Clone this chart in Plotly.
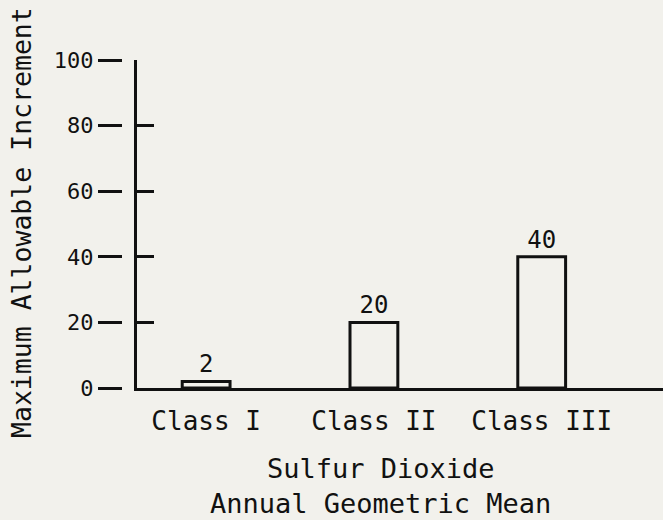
import plotly.graph_objects as go

categories = ["Class I", "Class II", "Class III"]
values = [2, 20, 40]
y_ticks = [0, 20, 40, 60, 80, 100]
y_tick_labels = ["0", "20", "40", "60", "80", "100"]

BG = "#f2f1ec"
INK = "#111111"
FONT = "DejaVu Sans Mono"

x_pos = list(range(len(categories)))
PAPER_W = 563
AXIS_POS = 37 / PAPER_W      # paper position of the vertical axis line

fig = go.Figure()

# Outlined bars with value labels above them
fig.add_trace(go.Bar(
    x=x_pos, y=values, width=0.285,
    marker=dict(color=BG, line=dict(color=INK, width=3)),
    text=[str(v) for v in values], textposition="outside",
    textfont=dict(family=FONT, size=24, color=INK),
    cliponaxis=False, showlegend=False, hoverinfo="skip",
))

# Companion axis on the same scale, carrying the labels and their dashes
fig.add_trace(go.Scatter(
    x=x_pos, y=values, yaxis="y2", mode="none",
    showlegend=False, hoverinfo="skip",
))

fig.update_layout(
    width=663, height=520,
    margin=dict(l=100, r=0, t=60, b=132),
    paper_bgcolor=BG, plot_bgcolor="rgba(0,0,0,0)",
    font=dict(family=FONT, color=INK),
    hovermode=False, dragmode=False,
    xaxis=dict(
        domain=[AXIS_POS, 1],
        range=[-0.412, 2.723],
        tickvals=x_pos, ticktext=categories,
        tickfont=dict(family=FONT, size=26, color=INK),
        ticks="", showgrid=False, zeroline=False,
        showline=True, linecolor=INK, linewidth=3,
        ticklabelstandoff=8, fixedrange=True,
    ),
    # the axis line itself, with short ticks pointing into the plot
    yaxis=dict(
        anchor="x", side="left",
        range=[0, 100], tickvals=y_ticks,
        showticklabels=False,
        ticks="inside", ticklen=17, tickwidth=3, tickcolor=INK,
        showgrid=False, zeroline=False,
        showline=True, linecolor=INK, linewidth=3,
        fixedrange=True,
    ),
    # labels with their dashes, set off to the left of the axis line
    yaxis2=dict(
        overlaying="y", matches="y", anchor="free", side="left",
        position=22 / PAPER_W,
        range=[0, 100], tickvals=y_ticks, ticktext=y_tick_labels,
        tickfont=dict(family=FONT, size=22, color=INK),
        ticks="outside", ticklen=24, tickwidth=3, tickcolor=INK,
        showgrid=False, zeroline=False, showline=False,
        ticklabelstandoff=0, fixedrange=True,
    ),
    annotations=[
        dict(
            text="Maximum Allowable Increment",
            xref="paper", yref="paper",
            x=(21 - 100) / PAPER_W, y=(388 - 223) / 328,
            xanchor="center", yanchor="middle", textangle=-90,
            showarrow=False, font=dict(family=FONT, size=26.5, color=INK),
        ),
        dict(
            text="Sulfur Dioxide<br>Annual Geometric Mean",
            xref="paper", yref="paper",
            x=(380 - 100) / PAPER_W, y=-(486 - 388) / 328,
            xanchor="center", yanchor="middle",
            showarrow=False, font=dict(family=FONT, size=27, color=INK),
        ),
    ],
)

fig.write_html("out.html", config={"staticPlot": True, "displayModeBar": False})
